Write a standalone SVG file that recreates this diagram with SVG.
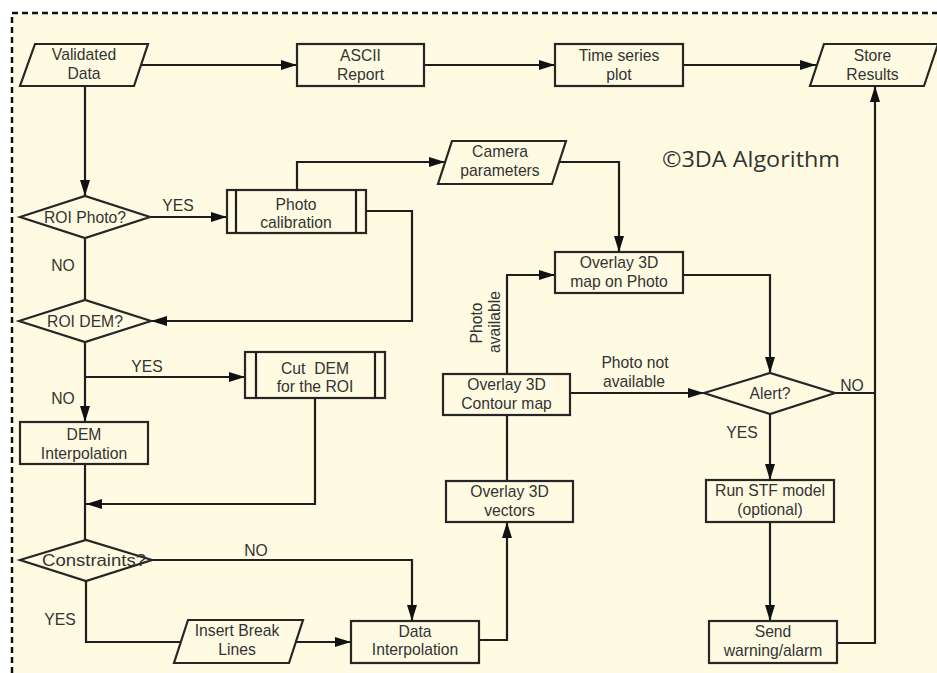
<svg xmlns="http://www.w3.org/2000/svg" width="937" height="673" viewBox="0 0 937 673">
<style>
.n{fill:#FEFBE2;stroke:#262626;stroke-width:2.2}
.t{font-family:"Liberation Sans",Arial,sans-serif;font-size:15.7px;fill:#333;text-anchor:middle;white-space:pre}
.c{fill:none;stroke:#1e1e1e;stroke-width:2.2}
.a{marker-end:url(#ah)}
</style>
<defs>
<marker id="ah" viewBox="0 0 16 10" refX="16" refY="5" markerWidth="16" markerHeight="10" markerUnits="userSpaceOnUse" orient="auto">
<path d="M0,0 L16,5 L0,10 z" fill="#111"/>
</marker>
</defs>
<rect x="0" y="0" width="937" height="673" fill="#fff"/>
<rect x="12" y="13" width="925" height="660" fill="#FEFBE2"/>
<path d="M12,673 V13 H937" fill="none" stroke="#111" stroke-width="2.5" stroke-dasharray="6,4"/>

<g id="connectors">
<path class="c a" d="M142,65 H297"/>
<path class="c a" d="M424,65 H555"/>
<path class="c a" d="M683,65 H816"/>
<path class="c a" d="M85,86 V196"/>
<path class="c a" d="M150,217 H227"/>
<path class="c" d="M85,238 V300"/>
<path class="c a" d="M297,190 V162 H445"/>
<path class="c a" d="M366,211 H412 V321 H151"/>
<path class="c a" d="M85,342 V422"/>
<path class="c a" d="M85,377 H245"/>
<path class="c a" d="M315,398 V504 H86"/>
<path class="c" d="M85,464 V540"/>
<path class="c a" d="M152,560 H412 V621"/>
<path class="c" d="M86,581 V642 H181"/>
<path class="c a" d="M296,642 H351"/>
<path class="c a" d="M479,640 H507 V522"/>
<path class="c" d="M507,481 V415"/>
<path class="c a" d="M507,374 V275 H555"/>
<path class="c a" d="M570,393 H704"/>
<path class="c a" d="M559,162 H619 V252"/>
<path class="c a" d="M683,275 H770 V373"/>
<path class="c" d="M835,393 H875"/>
<path class="c a" d="M770,414 V480"/>
<path class="c a" d="M770,522 V621"/>
<path class="c a" d="M837,643 H875 V86"/>
</g>

<g id="labels">
<text class="t" x="178" y="211">YES</text>
<text class="t" x="63" y="271">NO</text>
<text class="t" x="147" y="372">YES</text>
<text class="t" x="63" y="404">NO</text>
<text class="t" x="256" y="556">NO</text>
<text class="t" x="60" y="625">YES</text>
<text class="t" transform="translate(482,323) rotate(-90)" x="0" y="0">Photo</text>
<text class="t" transform="translate(500,322) rotate(-90)" x="0" y="0">available</text>
<text class="t" x="635" y="368">Photo not</text>
<text class="t" x="634" y="387">available</text>
<text class="t" x="852" y="391">NO</text>
<text class="t" x="742" y="438">YES</text>
<text x="751" y="167" font-family="'Open Sans',Lato,sans-serif" font-size="21" fill="#333" text-anchor="middle" textLength="178" lengthAdjust="spacingAndGlyphs">©3DA Algorithm</text>
</g>

<g id="validated-data">
<polygon class="n" points="35,44 148,44 134,86 20,86"/>
<text class="t" x="84" y="60">Validated</text>
<text class="t" x="84" y="79">Data</text>
</g>
<g id="ascii-report">
<rect class="n" x="297" y="44" width="127" height="42"/>
<text class="t" x="360.5" y="61">ASCII</text>
<text class="t" x="360.5" y="80">Report</text>
</g>
<g id="time-series-plot">
<rect class="n" x="555" y="44" width="128" height="42"/>
<text class="t" x="619" y="61">Time series</text>
<text class="t" x="619" y="80">plot</text>
</g>
<g id="store-results">
<polygon class="n" points="824,44 938,44 924,86 810,86"/>
<text class="t" x="872.5" y="61">Store</text>
<text class="t" x="872.5" y="80">Results</text>
</g>
<g id="roi-photo">
<polygon class="n" points="20,217 85,196 150,217 85,238"/>
<text class="t" x="85" y="223">ROI Photo?</text>
</g>
<g id="photo-calibration">
<rect class="n" x="227" y="190" width="139" height="43"/>
<path class="c" d="M236,190 V233 M356,190 V233"/>
<text class="t" x="296" y="210">Photo</text>
<text class="t" x="296" y="228">calibration</text>
</g>
<g id="camera-parameters">
<polygon class="n" points="452,141 566,141 552,184 438,184"/>
<text class="t" x="500" y="157">Camera</text>
<text class="t" x="500" y="176">parameters</text>
</g>
<g id="roi-dem">
<polygon class="n" points="19,321 85,300 151,321 85,342"/>
<text class="t" x="85" y="327">ROI DEM?</text>
</g>
<g id="cut-dem">
<rect class="n" x="245" y="352" width="140" height="46"/>
<path class="c" d="M256,352 V398 M375,352 V398"/>
<text class="t" x="315" y="374">Cut  DEM</text>
<text class="t" x="315" y="392">for the ROI</text>
</g>
<g id="dem-interpolation">
<rect class="n" x="20" y="422" width="128" height="42"/>
<text class="t" x="84" y="440">DEM</text>
<text class="t" x="84" y="459">Interpolation</text>
</g>
<g id="constraints">
<polygon class="n" points="20,560 86,540 152,560 86,581"/>
<text class="t" x="94" y="566" textLength="104" lengthAdjust="spacingAndGlyphs">Constraints?</text>
</g>
<g id="insert-break-lines">
<polygon class="n" points="188,620 303,620 289,663 174,663"/>
<text class="t" x="237" y="636">Insert Break</text>
<text class="t" x="237" y="655">Lines</text>
</g>
<g id="data-interpolation">
<rect class="n" x="351" y="621" width="128" height="42"/>
<text class="t" x="415" y="637">Data</text>
<text class="t" x="415" y="655">Interpolation</text>
</g>
<g id="overlay-vectors">
<rect class="n" x="446" y="481" width="127" height="41"/>
<text class="t" x="509.5" y="497">Overlay 3D</text>
<text class="t" x="509.5" y="516">vectors</text>
</g>
<g id="overlay-contour">
<rect class="n" x="443" y="374" width="127" height="41"/>
<text class="t" x="506.5" y="390">Overlay 3D</text>
<text class="t" x="506.5" y="409">Contour map</text>
</g>
<g id="overlay-photo">
<rect class="n" x="555" y="252" width="128" height="41"/>
<text class="t" x="619" y="268">Overlay 3D</text>
<text class="t" x="619" y="287">map on Photo</text>
</g>
<g id="alert">
<polygon class="n" points="704,393 770,373 835,393 770,414"/>
<text class="t" x="770" y="399">Alert?</text>
</g>
<g id="run-stf">
<rect class="n" x="706" y="480" width="128" height="42"/>
<text class="t" x="770" y="496">Run STF model</text>
<text class="t" x="770" y="515">(optional)</text>
</g>
<g id="send-warning">
<rect class="n" x="709" y="621" width="128" height="42"/>
<text class="t" x="773" y="637">Send</text>
<text class="t" x="773" y="656">warning/alarm</text>
</g>
</svg>
